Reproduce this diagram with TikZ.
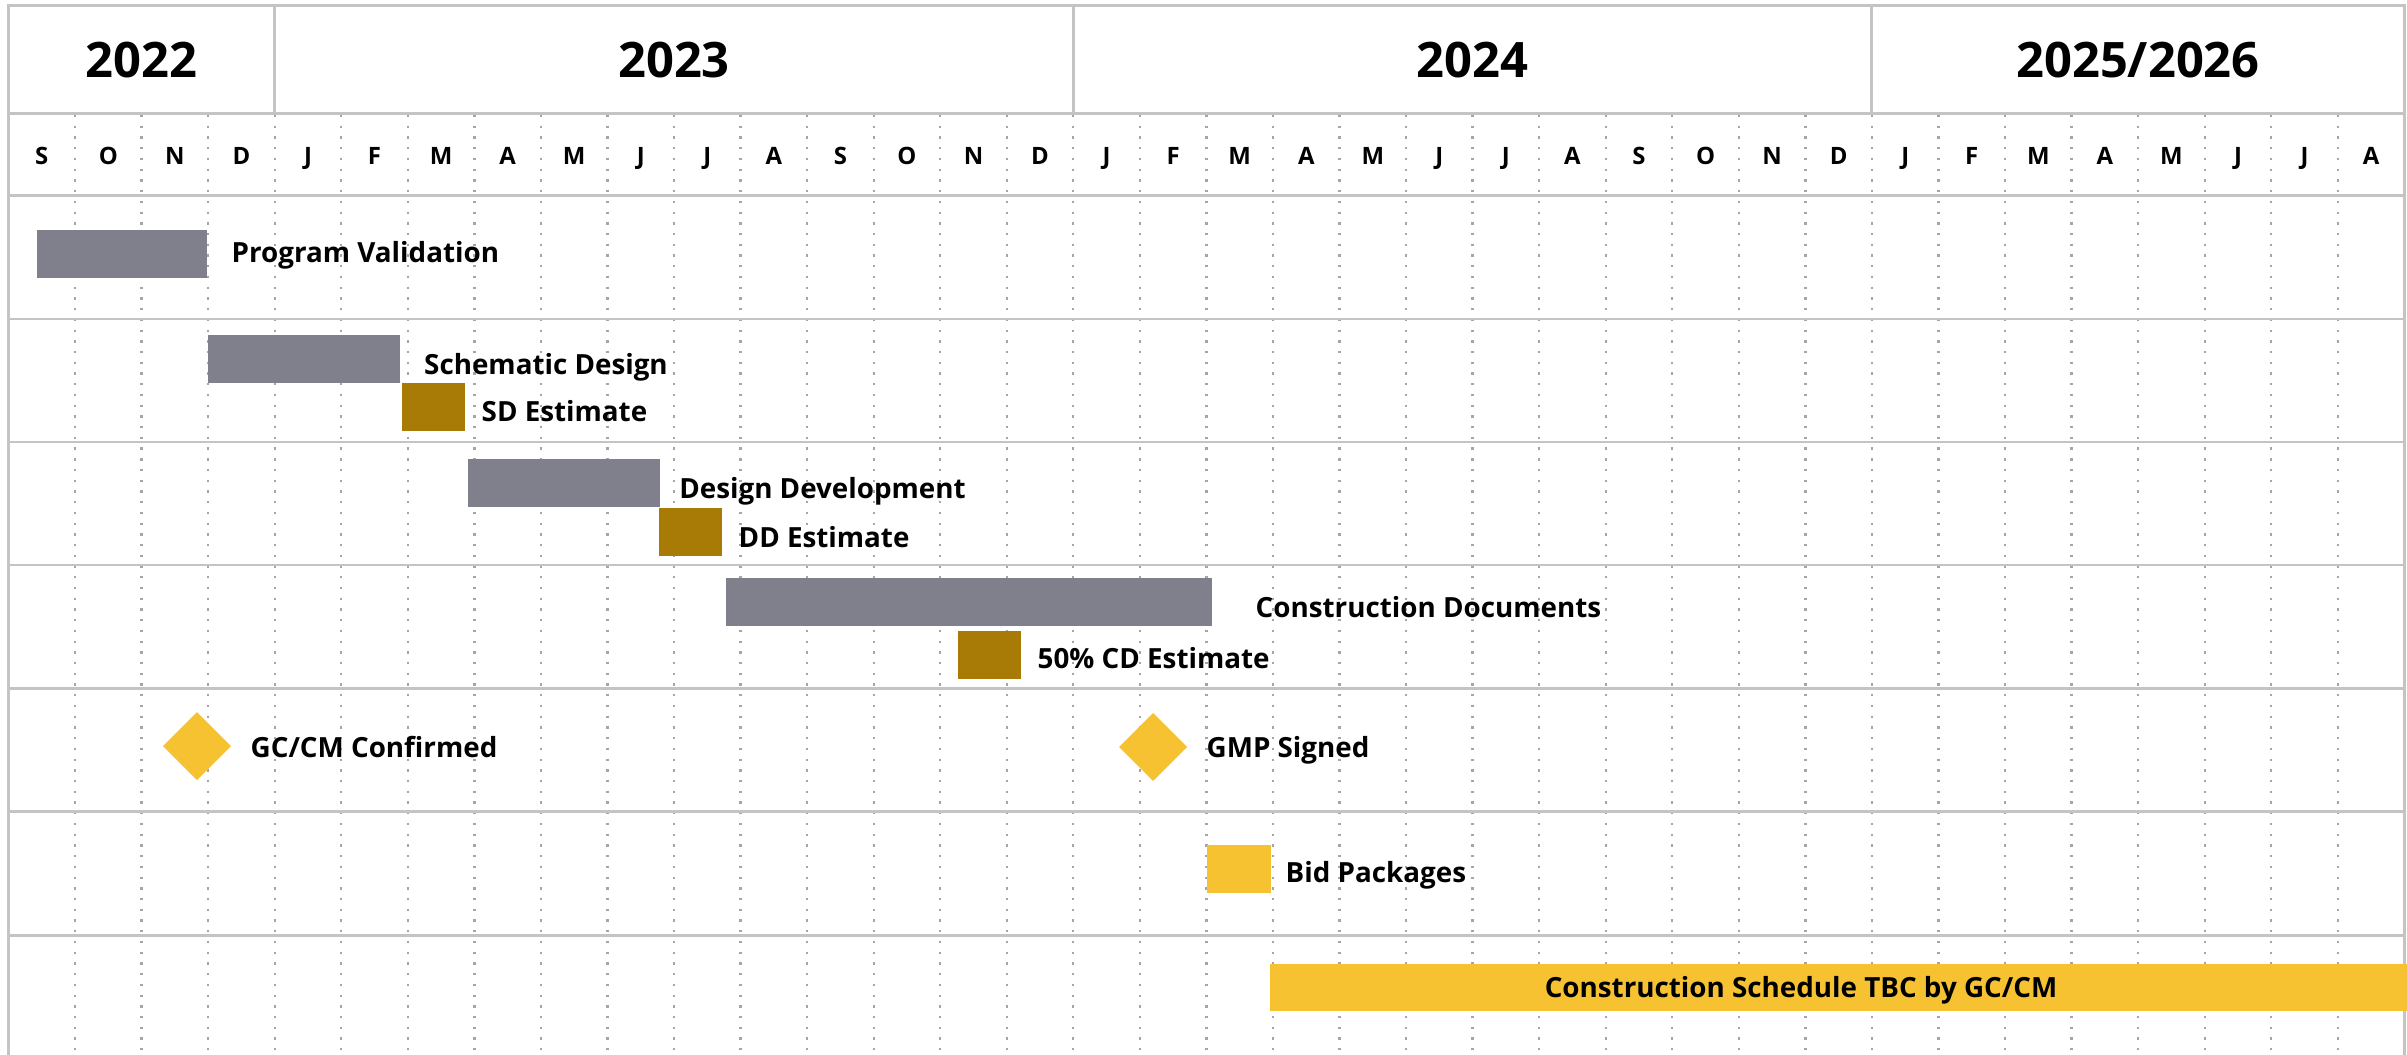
\documentclass[tikz,border=0pt]{standalone}
\usepackage{fontspec}
\setmainfont{Open Sans}
\definecolor{rowgrey}{RGB}{196,196,196}
\definecolor{dotgrey}{RGB}{165,165,165}
\definecolor{phasegrey}{RGB}{128,128,140}
\definecolor{estbrown}{RGB}{167,123,5}
\definecolor{msyellow}{RGB}{246,194,50}
\begin{document}
\begin{tikzpicture}[x=0.01cm,y=-0.01cm,
  gridline/.style={draw=rowgrey, line width=0.85pt},
  monthdots/.style={draw=dotgrey, line width=0.65pt, dash pattern=on 0.65pt off 2.4pt},
  yearlbl/.style={font=\fontsize{13.9pt}{16pt}\selectfont\bfseries, anchor=base, inner sep=0},
  monthlbl/.style={font=\fontsize{6.8pt}{8pt}\selectfont\bfseries, anchor=base, inner sep=0},
  tasklbl/.style={font=\fontsize{7.9pt}{10pt}\selectfont\bfseries, anchor=base west, inner sep=0},
  phase/.style={fill=phasegrey},
  estimate/.style={fill=estbrown},
  milestone/.style={fill=msyellow},
]
\useasboundingbox (0,0) rectangle (2407,1055);
\fill[white] (0,0) rectangle (2407,1055);
% month dotted lines
\foreach \k in {1,...,35}
  \draw[monthdots] ({8.5+66.55*\k},115) -- ({8.5+66.55*\k},1055);
% frame and row lines
\draw[gridline] (8.5,1055) -- (8.5,5.3) -- (2404.3,5.3) -- (2404.3,1055);
\foreach \y in {113.3,195.5,319,442,565,688.3,811.7,935}
  \draw[gridline] (8.5,\y) -- (2404.3,\y);
\foreach \k in {4,16,28}
  \draw[gridline] ({8.5+66.55*\k},5.3) -- ({8.5+66.55*\k},113.3);
% years
\node[yearlbl] (y2022) at (141.6,78) {2022};
\node[yearlbl] (y2023) at (674,78) {2023};
\node[yearlbl] (y2024) at (1472.6,78) {2024};
\node[yearlbl] (y2025) at (2138,78) {2025/2026};
% months
\foreach \m [count=\i from 0] in {S,O,N,D,J,F,M,A,M,J,J,A,S,O,N,D,J,F,M,A,M,J,J,A,S,O,N,D,J,F,M,A,M,J,J,A}
  \node[monthlbl] (mon\i) at ({41.8+66.55*\i},165) {\m};
% bars
\path[phase] (37,230) rectangle (206.5,278);
\node[tasklbl] (pv) at (231,263) {Program Validation};
\path[phase] (208,335) rectangle (399.5,383);
\node[tasklbl] (sd) at (423.5,374) {Schematic Design};
\path[estimate] (402,383) rectangle (465,431);
\node[tasklbl] (sde) at (481,421.7) {SD Estimate};
\path[phase] (468,459) rectangle (660,507);
\node[tasklbl] (dd) at (678.6,498) {Design Development};
\path[estimate] (659,508) rectangle (722,556);
\node[tasklbl] (dde) at (738,547) {DD Estimate};
\path[phase] (726,578) rectangle (1212,626);
\node[tasklbl] (cd) at (1255,617) {Construction Documents};
\path[estimate] (958,631) rectangle (1021,679);
\node[tasklbl] (cde) at (1037,668) {50\% CD Estimate};
\path[milestone] (197,712) -- (231,746) -- (197,780) -- (163,746) -- cycle;
\node[tasklbl] (gccm) at (250,757) {GC/CM Confirmed};
\path[milestone] (1153,713) -- (1187,747) -- (1153,781) -- (1119,747) -- cycle;
\node[tasklbl] (gmp) at (1206,757) {GMP Signed};
\path[milestone] (1207,845) rectangle (1271,893);
\node[tasklbl] (bid) at (1285,882) {Bid Packages};
\path[milestone] (1270,964) rectangle (2407,1011);
\node[tasklbl, anchor=base] (cs) at (1801,997) {Construction Schedule TBC by GC/CM};
\end{tikzpicture}
\end{document}
